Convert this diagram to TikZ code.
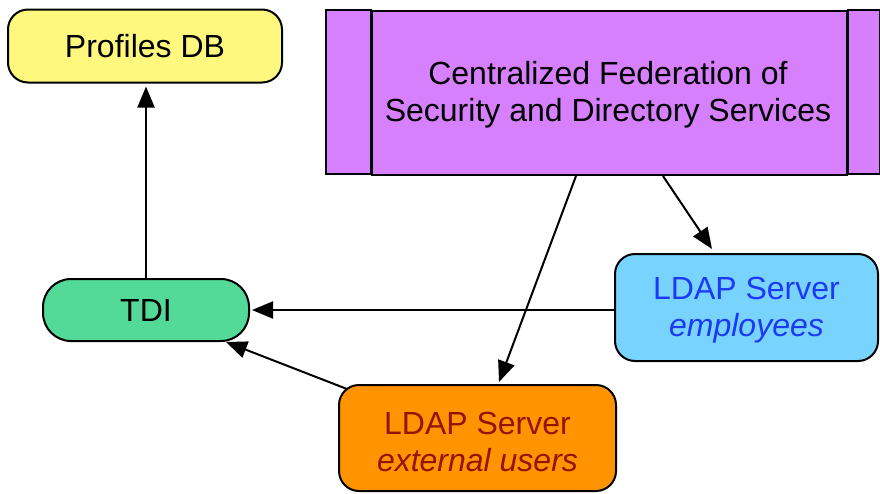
\documentclass[tikz,border=0pt]{standalone}
\usepackage{fontspec}
\setmainfont{Liberation Sans}
\usetikzlibrary{arrows.meta}

\definecolor{dbyellow}{RGB}{254,248,126}
\definecolor{fedpurple}{RGB}{214,128,253}
\definecolor{tdigreen}{RGB}{84,218,152}
\definecolor{empblue}{RGB}{120,212,255}
\definecolor{extorange}{RGB}{255,147,0}
\definecolor{emptext}{RGB}{28,58,245}
\definecolor{exttext}{RGB}{148,20,0}

\tikzset{
  box/.style={draw=black, line width=2pt, inner sep=0pt, align=center,
    font=\fontsize{32}{37}\selectfont},
  roundbox/.style={box, rounded corners=20pt},
  lbl/.style={inner sep=0pt, align=center, font=\fontsize{32}{37}\selectfont},
  link/.style={draw=black, line width=2pt,
    -{Triangle[length=21pt,width=17pt]}},
}

\begin{document}
\begin{tikzpicture}[x=1pt,y=-1pt]
\useasboundingbox (0,0) rectangle (880,493);

% profiles store
\node[roundbox, fill=dbyellow, minimum width=274pt, minimum height=73pt]
  (db) at (145,46) {Profiles DB};

% federation service: centre panel with side strips
\node[box, fill=fedpurple, minimum width=475pt, minimum height=164pt]
  (fed) at (609.5,93) {};
\draw[line width=2pt, fill=fedpurple] (fed.north west) rectangle ++(-45,164);
\draw[line width=2pt, fill=fedpurple] (fed.north east) rectangle ++(32,164);
\node[lbl] (fedlbl) at ([xshift=-1.5pt,yshift=-2pt]fed.center)
  {Centralized Federation of\\Security and Directory Services};

% directory integrator
\node[box, rounded corners=28pt, fill=tdigreen, minimum width=206pt, minimum height=62pt]
  (tdi) at (146,310) {TDI};

% LDAP servers
\node[roundbox, fill=empblue, minimum width=263pt, minimum height=107pt]
  (emp) at (746.5,307.5) {};
\node[lbl, text=emptext] (emplbl) at ([yshift=-3pt]emp.center)
  {LDAP Server\\\textit{employees}};
\node[roundbox, fill=extorange, minimum width=277pt, minimum height=106pt]
  (ext) at (477.5,438) {};
\node[lbl, text=exttext] (extlbl) at ([yshift=-3.5pt]ext.center)
  {LDAP Server\\\textit{external users}};

% connectors
\draw[link, shorten >=3pt] (tdi.north) -- (tdi.north |- db.south);
\draw[link] ([xshift=-33.5pt]fed.south) -- ([xshift=21.5pt,yshift=2pt]ext.north);
\draw[link] ([xshift=53.5pt]fed.south) -- ([xshift=-34.5pt,yshift=4pt]emp.north);
\draw[link, shorten >=2pt] (tdi.east -| emp.west) -- (tdi.east);
\draw[link] ([xshift=9pt,yshift=-5pt]ext.north west) -- ([xshift=-24pt]tdi.south east);
\end{tikzpicture}
\end{document}
